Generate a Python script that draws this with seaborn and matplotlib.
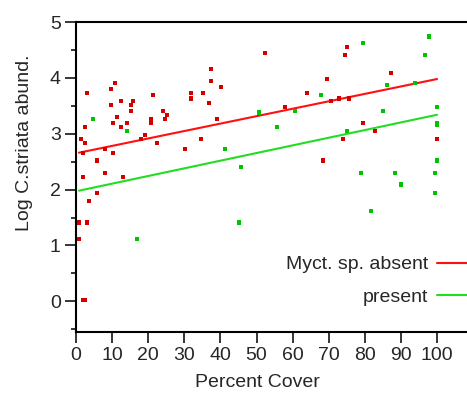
import matplotlib
matplotlib.use("Agg")
import matplotlib.pyplot as plt
from matplotlib.legend import Legend
from matplotlib.lines import Line2D
from matplotlib.ticker import MultipleLocator
import numpy as np
import pandas as pd
import seaborn as sns

# Myct. sp. absent (red squares)
absent_cover = [10.8, 3.0, 9.7, 12.5, 15.8, 15.2, 9.7, 21.3, 15.2, 24.1, 25.2, 11.4,
                10.2, 14.1, 20.8, 20.8, 24.7, 2.5, 12.5, 1.4, 2.5, 18.0, 19.1, 22.4,
                31.9, 31.9, 1.9, 8.0, 10.2, 5.8, 30.2, 34.6, 1.9, 8.0, 13.0,
                52.4, 37.4, 37.4, 40.2, 35.2, 36.8, 39.1, 57.9, 64.0, 69.5, 68.4,
                75.1, 74.5, 87.3, 70.6, 72.9, 75.6, 79.5, 82.8, 74.0, 100.0,
                5.8, 3.6, 0.8, 3.0, 0.8, 1.9, 2.5]
absent_abund = [3.91, 3.73, 3.80, 3.59, 3.59, 3.52, 3.52, 3.70, 3.41, 3.41, 3.34, 3.30,
                3.20, 3.20, 3.27, 3.20, 3.27, 3.12, 3.12, 2.91, 2.84, 2.91, 2.98, 2.84,
                3.73, 3.63, 2.66, 2.73, 2.66, 2.52, 2.73, 2.91, 2.23, 2.30, 2.23,
                4.45, 4.16, 3.95, 3.84, 3.73, 3.55, 3.27, 3.48, 3.73, 3.98, 2.52,
                4.56, 4.41, 4.09, 3.59, 3.63, 3.63, 3.20, 3.05, 2.91, 2.91,
                1.94, 1.80, 1.41, 1.41, 1.12, 0.03, 0.03]

# Myct. sp. present (green squares)
present_cover = [4.7, 14.1, 50.7, 60.7, 55.7, 67.9, 41.3, 45.7, 79.5, 97.8, 96.7, 86.1,
                 93.9, 85.0, 100.0, 100.0, 100.0, 75.1, 100.0, 78.9, 88.4, 99.4,
                 16.9, 45.2, 90.0, 99.4, 81.7]
present_abund = [3.27, 3.05, 3.38, 3.41, 3.12, 3.70, 2.73, 2.41, 4.63, 4.74, 4.41, 3.88,
                 3.91, 3.41, 3.48, 3.20, 3.16, 3.05, 2.52, 2.30, 2.30, 2.30,
                 1.12, 1.41, 2.09, 1.94, 1.62]

# fitted regression lines
groups = ["Myct. sp. absent", "present"]
fit_intercepts = [2.65, 1.97]
fit_slopes = [0.0133, 0.0137]

point_colors = {"Myct. sp. absent": "#d40000", "present": "#00c400"}
line_colors = {"Myct. sp. absent": "#ff1010", "present": "#22dd22"}

df = pd.DataFrame({
    "cover": absent_cover + present_cover,
    "abund": absent_abund + present_abund,
    "group": [groups[0]] * len(absent_cover) + [groups[1]] * len(present_cover),
})

x_fit = np.array([min(df["cover"]), max(df["cover"])])
fit_rows = []
for g, b0, b1 in zip(groups, fit_intercepts, fit_slopes):
    for xv in x_fit:
        fit_rows.append({"cover": xv, "abund": b0 + b1 * xv, "group": g})
df_fit = pd.DataFrame(fit_rows)

sns.set_style("ticks")
plt.rcParams["font.family"] = ["Liberation Sans", "DejaVu Sans"]

fig = plt.figure(figsize=(4.67, 4.01), dpi=100)
ax = fig.add_axes([0.163, 0.172, 0.837, 0.773])

sns.scatterplot(data=df, x="cover", y="abund", hue="group", palette=point_colors,
                marker="s", s=9, linewidth=0, legend=False, ax=ax, zorder=3)
sns.lineplot(data=df_fit, x="cover", y="abund", hue="group", palette=line_colors,
             linewidth=1.5, legend=False, ax=ax, zorder=2)

ax.set_xlim(0, 108.3)
ax.set_ylim(-0.55, 5.0)
ax.yaxis.set_major_locator(MultipleLocator(1))
ax.yaxis.set_minor_locator(MultipleLocator(0.5))
ax.set_xticks(range(0, 101, 10))

for side in ["left", "bottom", "top"]:
    ax.spines[side].set_linewidth(1.5)
    ax.spines[side].set_color("black")
ax.spines["right"].set_visible(False)

ax.tick_params(axis="both", which="major", direction="out", length=8, width=1.1,
               labelsize=14, color="black", pad=3)
ax.tick_params(axis="y", which="minor", direction="out", length=3.8, width=1.1,
               color="black")

ax.set_xlabel("Percent Cover", fontsize=14)
ax.set_ylabel("Log C.striata abund.", fontsize=14)
ax.xaxis.set_label_coords(0.463, -0.135)
ax.yaxis.set_label_coords(-0.11, 0.61)

# one legend per entry so the texts sit right-aligned against their lines
legend_y = [0.340, 0.260]
for g, ly in zip(groups, legend_y):
    handle = Line2D([], [], color=line_colors[g], linewidth=1.5)
    leg = Legend(ax, [handle], [g], loc="center right", bbox_to_anchor=(1.019, ly),
                 bbox_transform=fig.transFigure, frameon=False, markerfirst=False,
                 fontsize=14, handlelength=2.0, handletextpad=0.46, borderpad=0,
                 borderaxespad=0)
    ax.add_artist(leg)

fig.savefig("out.png", dpi=100)
